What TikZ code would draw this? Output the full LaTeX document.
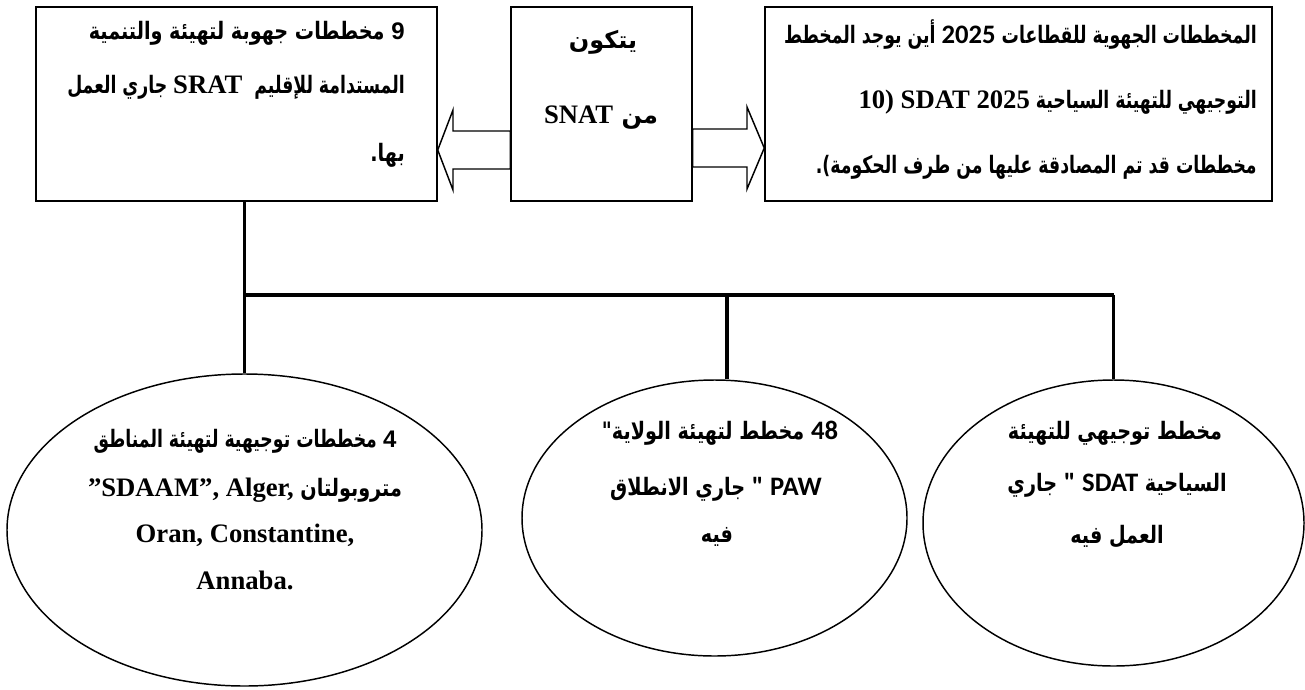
\documentclass[tikz,border=0pt]{standalone}
\usepackage{fontspec}
\usetikzlibrary{shapes.geometric}
\TeXXeTstate=1
% Arabic faces: regular width and two narrower settings
\newfontfamily\arbA[Script=Arabic]{DejaVu Sans}
\newfontfamily\arbB[Script=Arabic,FakeStretch=0.8]{DejaVu Sans}
\newfontfamily\arbC[Script=Arabic,FakeStretch=0.72]{DejaVu Sans}
\newfontfamily\tnr{Liberation Serif}
\newfontfamily\calib{Carlito}
\newfontfamily\arl{Liberation Sans}
% size switches for the Arabic lines and the Latin pieces set inside them
\newcommand{\faceA}{\arbA\bfseries\fontsize{18}{21}\selectfont}
\newcommand{\faceB}{\arbB\bfseries\fontsize{18}{21}\selectfont}
\newcommand{\faceC}{\arbC\bfseries\fontsize{18}{21}\selectfont}
\newcommand{\latS}[1]{{\tnr\bfseries\fontsize{20}{24}\selectfont #1}}
\newcommand{\latC}[1]{{\calib\bfseries\fontsize{20}{24}\selectfont #1}}
\newcommand{\latA}[1]{{\arl\bfseries\fontsize{18}{22}\selectfont #1}}
\begin{document}
\begin{tikzpicture}[x=0.75pt,y=-0.75pt,
  frame/.style={draw,line width=1.1pt,inner sep=0pt},
  ell/.style={draw,ellipse,line width=1.1pt,inner sep=0pt},
  txt/.style={inner sep=0pt},
  rtxt/.style={inner sep=0pt,anchor=east},
  conn/.style={line width=2.4pt},
  blockarrow/.style={draw,fill=white,line width=1.1pt,line join=miter}]
\useasboundingbox (0,0) rectangle (1305,689);

% the three boxes of the upper row
\node[frame,minimum width=300.75pt,minimum height=145.5pt] (L) at (236.5,104) {};
\node[frame,minimum width=135.75pt,minimum height=145.5pt] (C) at (601.5,104) {};
\node[frame,minimum width=380.25pt,minimum height=145.5pt] (R) at (1018.5,104) {};

% the three ellipses of the lower row
\node[ell,minimum width=356.25pt,minimum height=234pt] (E1) at (244.5,530) {};
\node[ell,minimum width=288.75pt,minimum height=207pt] (E2) at (714.5,518) {};
\node[ell,minimum width=285.75pt,minimum height=214.5pt] (E3) at (1113.5,523) {};

% block arrows from the middle box to its neighbours
\draw[blockarrow] (L.east |- 0,150) -- (453,110) -- (453,131) -- (C.west |- 0,131)
  -- (C.west |- 0,169) -- (453,169) -- (453,190) -- cycle;
\draw[blockarrow] (C.east |- 0,129) -- (747,129) -- (747,107) -- (R.west |- 0,148)
  -- (747,189) -- (747,167) -- (C.east |- 0,167) -- cycle;

% tree of connectors
\coordinate (J1) at (E1.north |- 0,295);
\coordinate (J2) at (727,295);
\coordinate (J3) at (E3.north |- 0,295);
\draw[conn] (L.south -| E1.north) -- (E1.north);
\draw[conn] (J1) -- (J3);
\draw[conn] (J2) -- (J2 |- E2.north);
\draw[conn] (J3) -- (E3.north);

% texts of the left box
\node[rtxt] (lb1) at (405,33) {\faceB\beginR\latA{9} مخططات جهوبة لتهيئة والتنمية\endR};
\node[rtxt] (lb2) at (405,87) {\faceC\beginR المستدامة للإقليم \ \latS{SRAT} جاري العمل\endR};
\node[rtxt] (lb3) at (405,155) {\faceB\beginR بها.\endR};

% texts of the middle box
\node[txt] (cb1) at (603,42) {\faceA\beginR يتكون\endR};
\node[txt] (cb2) at (601,118) {\faceA\beginR من \latS{SNAT}\endR};

% texts of the right box
\node[rtxt] (rb1) at (1257,35) {\faceC\beginR المخططات الجهوية للقطاعات \latC{2025} أين يوجد المخطط\endR};
\node[rtxt] (rb2) at (1257,102) {\faceC\beginR التوجيهي للتهيئة السياحية \beginL\latS{10) SDAT 2025}\endL\endR};
\node[rtxt] (rb3) at (1257,167) {\faceC\beginR مخططات قد تم المصادقة عليها من طرف الحكومة).\endR};

% texts of the left ellipse
\node[txt] (e1a) at (245,441) {\faceC\beginR\latA{4} مخططات توجيهية لتهيئة المناطق\endR};
\node[txt] (e1b) at (245,490) {\faceB\beginR متروبولتان \beginL\latS{”SDAAM”, Alger,}\endL\endR};
\node[txt] (e1c) at (245,535) {\latS{Oran, Constantine,}};
\node[txt] (e1d) at (245,580) {\latS{Annaba.}};

% texts of the middle ellipse
\node[txt] (e2a) at (720,433) {\faceB\beginR\beginL\latC{48}\endL{} مخطط لتهيئة الولاية"\endR};
\node[txt] (e2b) at (716,489) {\faceB\beginR\latC{PAW} \latC{"} جاري الانطلاق\endR};
\node[txt] (e2c) at (717,537) {\faceB\beginR فيه\endR};

% texts of the right ellipse
\node[txt] (e3a) at (1115,433) {\faceB\beginR مخطط توجيهي للتهيئة\endR};
\node[txt] (e3b) at (1117,485) {\faceB\beginR السياحية \latC{SDAT} \latC{"} جاري\endR};
\node[txt] (e3c) at (1117,537) {\faceB\beginR العمل فيه\endR};
\end{tikzpicture}
\end{document}
